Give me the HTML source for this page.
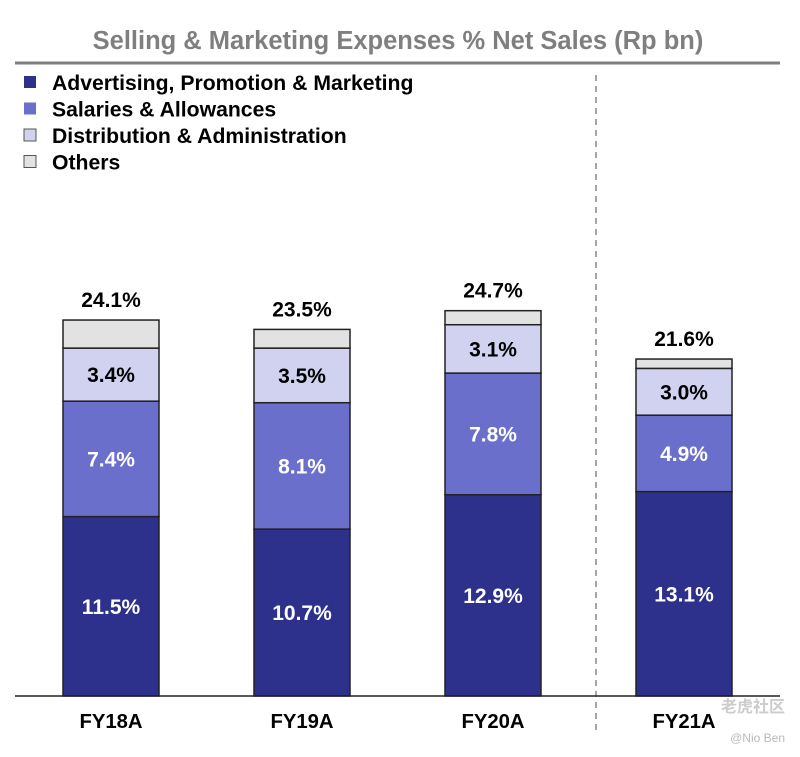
<!DOCTYPE html>
<html><head><meta charset="utf-8"><style>
body{margin:0;background:#fff;font-family:"Liberation Sans",Arial,sans-serif}
svg text{font-family:"Liberation Sans",Arial,sans-serif;font-weight:bold}
</style></head><body>
<svg id="c" width="800" height="752" viewBox="0 0 800 752">
<text x="398" y="49" text-anchor="middle" font-size="25.5" fill="#7f7f7f">Selling &amp; Marketing Expenses % Net Sales (Rp bn)</text>
<line x1="15" y1="63" x2="780" y2="63" stroke="#7f7f7f" stroke-width="3"/>
<line x1="596" y1="75" x2="596" y2="730" stroke="#888" stroke-width="1.5" stroke-dasharray="6,5"/>
<g id="legend"></g>
<g id="bars"></g>
<line x1="15" y1="696" x2="780" y2="696" stroke="#222" stroke-width="1.5"/>
<text x="785" y="742" text-anchor="end" font-size="12" fill="#bbb" style="font-weight:normal">@Nio Ben</text>
<text x="785" y="712" text-anchor="end" font-size="16" fill="#ccc" style="font-family:'Noto Sans CJK SC',sans-serif">老虎社区</text>
</svg>
<script>
const categories=["FY18A","FY19A","FY20A","FY21A"];
const seriesNames=["Advertising, Promotion & Marketing","Salaries & Allowances","Distribution & Administration","Others"];
const advertising=[11.5,10.7,12.9,13.1];
const salaries=[7.4,8.1,7.8,4.9];
const distribution=[3.4,3.5,3.1,3.0];
const others=[1.8,1.2,0.9,0.6];
const totals=[24.1,23.5,24.7,21.6];
const colors=["#2e318c","#6b6fcc","#d1d2ef","#e2e2e2"];
const labelColors=["#fff","#fff","#000",null];
const ns="http://www.w3.org/2000/svg";
const base=696,ppu=15.6,bw=96;
const barX=[63,254,445,636];
function y(v){return base-v*ppu;}
function mk(t,a,p){const e=document.createElementNS(ns,t);for(const k in a)e.setAttribute(k,a[k]);p.appendChild(e);return e;}
const lg=document.getElementById('legend');
seriesNames.forEach((n,i)=>{
 const r=mk('rect',{x:24,y:76+i*26.5,width:12,height:12,fill:colors[i],stroke:i>1?"#555":"none","stroke-width":1},lg);
 
 
 const t=mk('text',{x:52,y:90+i*26.5,"font-size":21.2,fill:"#000"},lg);t.textContent=n;
 
 
});
const g=document.getElementById('bars');
const series=[advertising,salaries,distribution,others];
categories.forEach((c,i)=>{
 let acc=0;
 series.forEach((s,j)=>{
  const v=s[i];
  const r=mk('rect',{x:barX[i],y:y(acc+v),width:bw,height:v*ppu,fill:colors[j],stroke:"#222","stroke-width":1.5},g);
  
  
  if(labelColors[j]){
   const t=mk('text',{x:barX[i]+bw/2,y:y(acc+v/2)+7.5,"text-anchor":"middle","font-size":21,fill:labelColors[j]},g);
   t.textContent=v.toFixed(1)+"%";
   
   
  }
  acc+=v;
 });
 const tt=mk('text',{x:barX[i]+bw/2,y:y(totals[i])-13,"text-anchor":"middle","font-size":21,fill:"#000"},g);
 tt.textContent=totals[i].toFixed(1)+"%";
 
 
 const xl=mk('text',{x:barX[i]+bw/2,y:728,"text-anchor":"middle","font-size":20.3,fill:"#000"},g);
 xl.textContent=c;
 
 
});
</script>
</body></html>
